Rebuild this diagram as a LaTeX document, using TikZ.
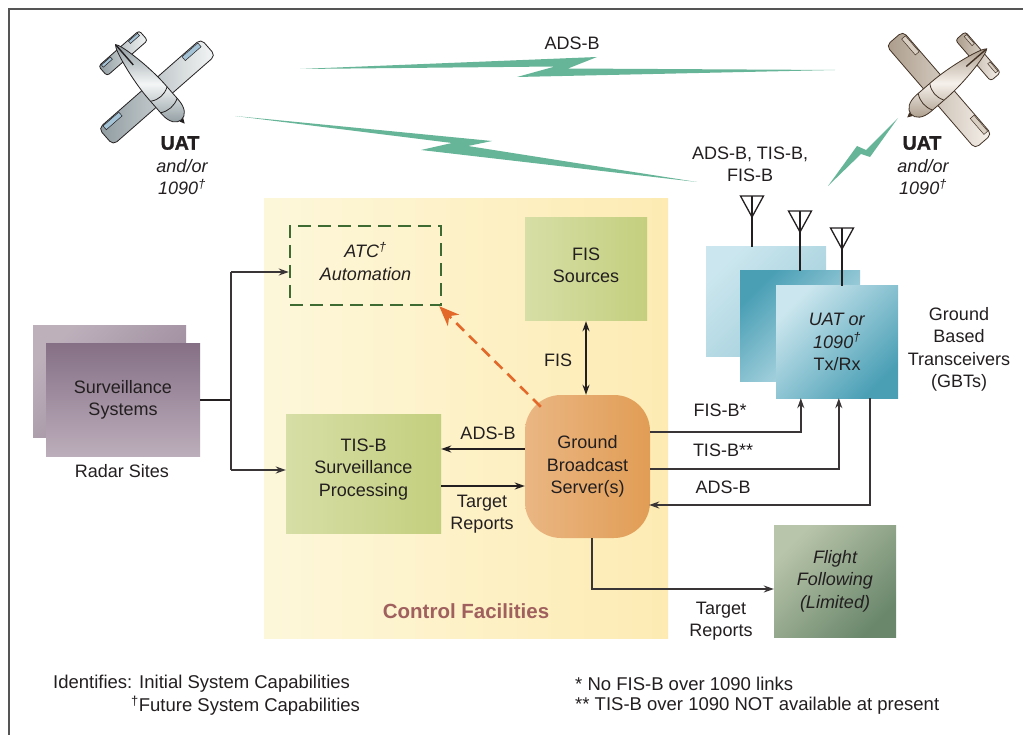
\documentclass[tikz,border=0pt]{standalone}
\usepackage{fontspec}
\setmainfont{Liberation Sans}
\newfontfamily\heavyfont[BoldFeatures={FakeBold=1.6}]{Liberation Sans}
\usetikzlibrary{arrows.meta,calc}

\definecolor{ink}{HTML}{231F20}
\definecolor{bolt}{HTML}{67B598}
\definecolor{cfL}{HTML}{FDF7DA}
\definecolor{cfR}{HTML}{FDEBB3}
\definecolor{grnL}{HTML}{D7DEA6}
\definecolor{grnR}{HTML}{C4CF7E}
\definecolor{orgL}{HTML}{EAB683}
\definecolor{orgR}{HTML}{E19D55}
\definecolor{atcgreen}{HTML}{3E6B32}
\definecolor{dashorange}{HTML}{E2692A}
\definecolor{cftext}{HTML}{A0605E}
\definecolor{survTop}{HTML}{857086}
\definecolor{survBot}{HTML}{BDAEBB}
\definecolor{survBackL}{HTML}{BDB0BB}
\definecolor{survBackR}{HTML}{988598}
\definecolor{gbtLight}{HTML}{CBE6EE}
\definecolor{gbtMid}{HTML}{9FCDDA}
\definecolor{gbtDark}{HTML}{4A9FB5}
\definecolor{ffLight}{HTML}{B9C5AA}
\definecolor{ffDark}{HTML}{6A876C}
\definecolor{framegray}{HTML}{555555}
\definecolor{silverL}{HTML}{F4F6F6}
\definecolor{silverD}{HTML}{8F9BA0}
\definecolor{silverS}{HTML}{A5C3D6}
\definecolor{tanL}{HTML}{F6F1EB}
\definecolor{tanD}{HTML}{AB9C8B}
\definecolor{tanS}{HTML}{D9CFC3}

\newcommand\lbl{\fontsize{18}{22.5}\selectfont}
\newcommand\notesize{\fontsize{18.5}{22}\selectfont}
\newcommand\dg{\textsuperscript{†}}

% small aircraft seen from above, nose along local +x
\newcommand\drawplane[7]{%
  \begin{scope}[shift={(#1,#2)},rotate=#3,line width=0.8pt,draw=#7]
    % horizontal tail
    \draw[left color=#5,right color=#4,rounded corners=3pt] (-58,-27) rectangle (-45,27);
    \draw[fill=#6,line width=0.5pt] (-57,-24) rectangle (-54,-12);
    \draw[fill=#6,line width=0.5pt] (-57,12) rectangle (-54,24);
    % main wing
    \draw[left color=#5,right color=#4,rounded corners=5pt] (-11,-68) rectangle (11,68);
    \draw[fill=#6,line width=0.5pt] (-10,-63) rectangle (-5,-42);
    \draw[fill=#6,line width=0.5pt] (-10,42) rectangle (-5,63);
    % fuselage
    \draw[top color=#5,bottom color=#5,middle color=#4]
      (-63,0) .. controls (-60,4) and (-25,11) .. (0,11) -- (20,11)
      .. controls (31,11) and (37,6) .. (37,0)
      .. controls (37,-6) and (31,-11) .. (20,-11) -- (0,-11)
      .. controls (-25,-11) and (-60,-4) .. (-63,0) -- cycle;
    \draw (18,-11) .. controls (22,-4) and (22,4) .. (18,11);
    \draw (3,-10.5) .. controls (7,-4) and (7,4) .. (3,10.5);
    \fill[#7] (37,-2.5) -- (42,0) -- (37,2.5) -- cycle;
    \draw[line width=1.4pt] (-62,0) -- (-36,0);
  \end{scope}}

\tikzset{
  txt/.style={font=\lbl, text=ink, align=center, inner sep=0pt},
  conn/.style={draw=ink!90, line width=1.4pt},
  heavy/.style={draw=ink, line width=2.4pt},
  arr/.style={-{Stealth[length=10pt,width=7pt]}},
  box/.style={draw=none, inner sep=0pt, font=\lbl, text=ink, align=center},
  boltshape/.style={fill=bolt, draw=none},
}

\begin{document}
\begin{tikzpicture}[x=1pt,y=-1pt]
\useasboundingbox (0,0) rectangle (1023,735);
\fill[white] (0,0) rectangle (1023,735);

% outer frame
\draw[framegray, line width=1.5pt] (1023,9) -- (9,9) -- (9,735);

% control facilities area
\shade[left color=cfL, right color=cfR] (264,199) rectangle (668,638);
\node[font=\fontsize{20.5}{24}\selectfont\bfseries, text=cftext, inner sep=0pt] (cflabel) at (466,611) {Control Facilities};

% radio links
\path[boltshape] (300,69) -- (597,57) -- (568,68.5) -- (835,70) -- (517,77) -- (555,66.5) -- cycle;
\path[boltshape] (235,116) -- (492,141) -- (468,146) -- (697,182) -- (421,150) -- (452,143) -- cycle;
\path[boltshape] (828,186) -- (857,146) -- (866,150) -- (898,118) -- (870,157) -- (861,154) -- cycle;
\node[txt] (adsbtop) at (572,43) {ADS-B};

% aircraft
\drawplane{157}{92}{-48.8}{silverL}{silverD}{silverS}{ink}
\drawplane{939}{90}{-139.2}{tanL}{tanD}{tanS}{ink!80!brown}

\node[txt, font=\fontsize{19.5}{22}\heavyfont\bfseries] (uatL) at (180,143) {UAT};
\node[txt, font=\lbl\itshape] (uatLsub) at (182,177) {and/or\\1090\dg};
\node[txt, font=\fontsize{19.5}{22}\heavyfont\bfseries] (uatR) at (922,143) {UAT};
\node[txt, font=\lbl\itshape] (uatRsub) at (923,177) {and/or\\1090\dg};
\node[txt] (uplinks) at (750,164.5) {ADS-B, TIS-B,\\FIS-B};

% boxes inside the facility
\node[box, draw=atcgreen, line width=2.5pt, dash pattern=on 13pt off 7pt,
      minimum width=151pt, minimum height=79pt] (atc) at (365.5,265.5) {};
\node[txt, font=\lbl\itshape] (atctext) at ($(atc.center)+(0,-4)$) {ATC\dg\\Automation};
\node[box, left color=grnL, right color=grnR, minimum width=122pt, minimum height=103pt] (fis) at (586,269.5) {};
\node[txt] (fistext) at ($(fis.center)+(0,-4)$) {FIS\\Sources};
\node[box, left color=grnL, right color=grnR, minimum width=155pt, minimum height=119pt] (tis) at (363.5,473.5) {};
\node[txt] (tistext) at ($(tis.center)+(0,-4)$) {TIS-B\\Surveillance\\Processing};
\node[box, left color=orgL, right color=orgR, rounded corners=36pt, minimum width=125pt, minimum height=143pt] (gbs) at (587.5,466.5) {Ground\\Broadcast\\Server(s)};

% radar sites
\node[box, top color=survBackL, bottom color=survBackR, shading angle=45, minimum width=153pt, minimum height=111pt] (survb) at (109.5,381.5) {};
\node[box, top color=survTop, bottom color=survBot, minimum width=154pt, minimum height=112pt] (survf) at (123,400) {Surveillance\\Systems};
\node[txt] (radar) at (122,471) {Radar Sites};

% ground based transceivers
\node[box, top color=gbtLight, bottom color=gbtMid, shading angle=45, minimum width=120pt, minimum height=110pt] (gbtb) at (766,302) {};
\node[box, top color=gbtDark, bottom color=gbtLight, shading angle=45, minimum width=120pt, minimum height=110pt] (gbtm) at (800,326) {};
\node[box, top color=gbtLight, bottom color=gbtDark, shading angle=45, minimum width=122pt, minimum height=112pt] (gbtf) at (837,342) {\textit{UAT or}\\\textit{1090\dg}\\Tx/Rx};
\node[txt] (gbtlabel) at (959,349.5) {Ground\\Based\\Transceivers\\(GBTs)};

% antennas
\foreach \nd/\dx/\top in {gbtb/-14/196, gbtm/0/211, gbtf/5/228}{
  \coordinate (ant) at ($(\nd.north)+(\dx,0)$);
  \draw[ink, line width=2.4pt] (ant) -- (ant |- {(0,\top)});
  \draw[ink, line width=1.3pt, line join=miter] ($(ant |- {(0,\top)})+(-11.5,0)$) -- ($(ant |- {(0,\top)})+(11.5,0)$) -- ($(ant |- {(0,\top)})+(0,21)$) -- cycle;
}

% flight following
\node[box, top color=ffLight, bottom color=ffDark, shading angle=45, minimum width=122pt, minimum height=112pt, font=\lbl\itshape] (ff) at (835,581) {Flight\\Following\\(Limited)};

% radar feed
\coordinate (jn) at (231,400);
\coordinate (jtop) at (231,272);
\coordinate (jbot) at (231,470);
\draw[heavy] (survf.east |- jn) -- (jn);
\draw[conn] (jtop) -- (jbot);
\draw[conn, arr] (jtop) -- (atc.west |- jtop);
\draw[conn, arr] (jbot) -- (tis.west |- jbot);

% server links inside the facility
\coordinate (yads) at (0,449);
\coordinate (ytr) at (0,486);
\draw[heavy, arr] (gbs.west |- yads) -- (tis.east |- yads);
\draw[heavy, arr] (tis.east |- ytr) -- (gbs.west |- ytr);
\node[txt] (lads) at (488,433) {ADS-B};
\node[txt] (ltr) at (482,514) {Target\\Reports};
\draw[ink, line width=2pt, {Stealth[length=10pt,width=7pt]}-{Stealth[length=10pt,width=7pt]}] (fis.south) -- (fis.south |- gbs.north);
\node[txt] (lfis) at (558,360) {FIS};
\draw[dashorange, line width=2.6pt, dash pattern=on 11pt off 7pt, -{Stealth[length=20pt,width=16pt,inset=6pt]}]
  ($(gbs.north west)+(16,12)$) -- ($(atc.south east)+(-3,0)$);

% server to transceivers
\coordinate (pfis) at ($(gbtf.south west)+(25,0)$);
\coordinate (ptis) at ($(gbtf.south west)+(63,0)$);
\coordinate (pads) at ($(gbtf.south west)+(94,0)$);
\draw[conn, arr] (gbs.east |- {(0,432)}) -| (pfis);
\draw[conn, arr] (gbs.east |- {(0,469)}) -| (ptis);
\draw[conn, arr] (pads) |- ($(gbs.east |- {(0,505)})+(-1,0)$);
\node[txt] (lfisb) at (720,410) {FIS-B*};
\node[txt] (ltisb) at (723,450) {TIS-B**};
\node[txt] (ladsb) at (723,487) {ADS-B};

% server to flight following
\coordinate (tr) at ($(gbs.south)+(4.5,0)$);
\draw[conn, arr] (tr) |- (ff.west |- {(0,589)});
\node[txt] (ltr2) at (721,621) {Target\\Reports};

% notes
\node[txt, font=\notesize, anchor=west] (note1) at (53,684) {Identifies: Initial System Capabilities};
\node[txt, font=\notesize, anchor=west] (note2) at (131,706) {\dg Future System Capabilities};
\node[txt, font=\notesize, anchor=west] (note3) at (575,684) {* No FIS-B over 1090 links};
\node[txt, font=\notesize, anchor=west] (note4) at (575,706) {** TIS-B over 1090 NOT available at present};
\end{tikzpicture}
\end{document}
